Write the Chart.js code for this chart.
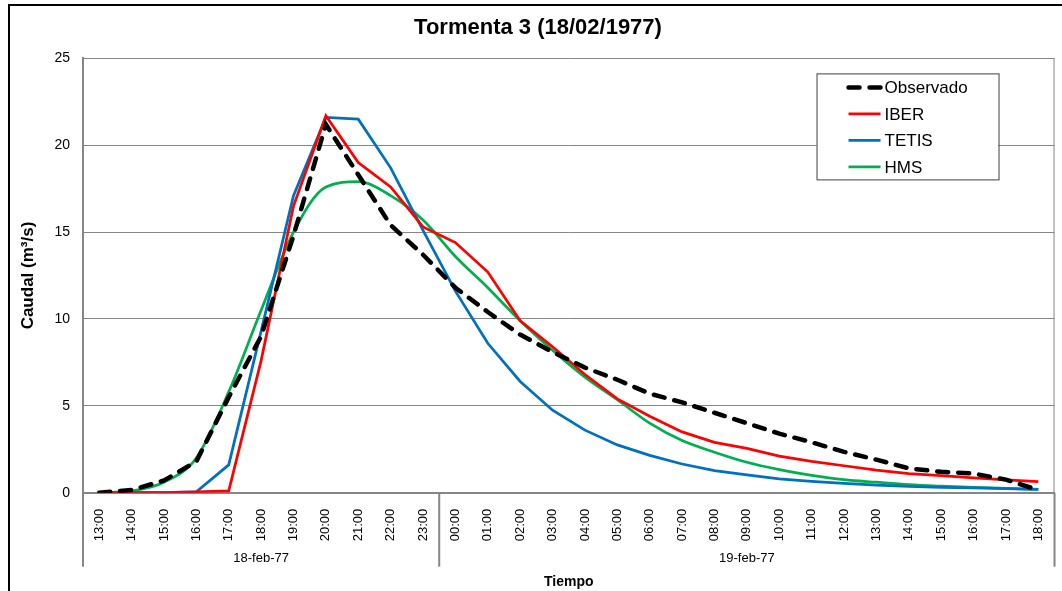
<!DOCTYPE html>
<html>
<head>
<meta charset="utf-8">
<script src="https://cdn.jsdelivr.net/npm/chart.js@4"></script>
<style>
  html, body { margin: 0; padding: 0; background: #fff; }
</style>
</head>
<body>
<canvas id="myChart" width="1062" height="591"></canvas>
<script>
const ctx = document.querySelector("#myChart").getContext("2d")

// etiquetas horarias (13:00 del 18 a 18:00 del 19)
const horas = ['13:00', '14:00', '15:00', '16:00', '17:00', '18:00', '19:00', '20:00', '21:00', '22:00', '23:00',
  '00:00', '01:00', '02:00', '03:00', '04:00', '05:00', '06:00', '07:00', '08:00', '09:00', '10:00',
  '11:00', '12:00', '13:00', '14:00', '15:00', '16:00', '17:00', '18:00']
const dias = ['18-feb-77', '19-feb-77']
const horasPorDia = [11, 19]

// caudales (m3/s)
const observado = [0, 0.15, 0.7, 1.8, 5.5, 9.0, 14.8, 21.2, 18.3, 15.4, 13.7, 11.8, 10.4, 9.1, 8.1, 7.2,
  6.5, 5.7, 5.2, 4.6, 4.0, 3.4, 2.9, 2.35, 1.9, 1.4, 1.2, 1.1, 0.75, 0.15]
const iber = [0, 0, 0, 0.05, 0.1, 7.6, 16.5, 21.7, 19.0, 17.6, 15.3, 14.4, 12.7, 9.9, 8.4, 6.8,
  5.4, 4.4, 3.5, 2.9, 2.55, 2.1, 1.8, 1.55, 1.3, 1.1, 0.98, 0.85, 0.73, 0.63]
const tetis = [0, 0, 0, 0.05, 1.6, 9.3, 17.1, 21.6, 21.5, 18.7, 15.1, 11.6, 8.6, 6.4, 4.75, 3.6,
  2.75, 2.15, 1.65, 1.27, 1.02, 0.8, 0.65, 0.54, 0.44, 0.36, 0.31, 0.27, 0.23, 0.19]
const hms = [0, 0.1, 0.6, 2.0, 5.8, 10.5, 15.0, 17.6, 17.9, 17.1, 15.7, 13.6, 11.8, 9.9, 8.2, 6.65,
  5.35, 4.0, 3.0, 2.33, 1.75, 1.33, 1.0, 0.75, 0.6, 0.46, 0.37, 0.3, 0.25, 0.19]

const gris = '#868686'
Chart.defaults.font.family = "'Liberation Sans', Arial, sans-serif"
Chart.defaults.color = '#000'

// marco, borde derecho, fechas bajo el eje y leyenda interior
const extras = {
  id: 'extras',
  beforeDraw(chart) {
    const c = chart.ctx
    c.save()
    c.fillStyle = '#fff'
    c.fillRect(0, 0, chart.width, chart.height)
    c.restore()
  },
  afterDraw(chart) {
    const c = chart.ctx
    const a = chart.chartArea
    const x = chart.scales.x
    c.save()

    c.strokeStyle = '#000'
    c.lineWidth = 2
    c.strokeRect(9, 5, chart.width + 20, chart.height + 20)

    c.strokeStyle = gris
    c.lineWidth = 1
    c.beginPath()
    c.moveTo(a.right - 0.5, a.top)
    c.lineTo(a.right - 0.5, a.bottom)
    c.stroke()

    // separadores y fechas
    const half = (x.getPixelForValue(1) - x.getPixelForValue(0)) / 2
    let inicio = 0
    c.lineWidth = 2
    c.font = '13px "Liberation Sans", Arial'
    c.textAlign = 'center'
    c.textBaseline = 'middle'
    c.fillStyle = '#000'
    const bordes = [0]
    horasPorDia.forEach(n => { inicio += n; bordes.push(inicio) })
    bordes.forEach(b => {
      const px = b < horas.length ? x.getPixelForValue(b) - half : x.getPixelForValue(horas.length - 1) + half
      c.beginPath()
      c.moveTo(px, a.bottom)
      c.lineTo(px, a.bottom + 74)
      c.stroke()
    })
    dias.forEach((d, i) => {
      const x0 = x.getPixelForValue(bordes[i]) - half
      const x1 = x.getPixelForValue(bordes[i + 1] - 1) + half
      c.fillText(d, (x0 + x1) / 2, a.bottom + 66)
    })

    // leyenda
    const lx = a.right - 238, ly = a.top + 15, lw = 182, lh = 106
    c.fillStyle = '#fff'
    c.fillRect(lx, ly, lw, lh)
    c.strokeStyle = '#404040'
    c.lineWidth = 1
    c.strokeRect(lx + 0.5, ly + 0.5, lw, lh)
    c.font = '17px "Liberation Sans", Arial'
    c.textAlign = 'left'
    chart.data.datasets.forEach((ds, i) => {
      const y = ly + 14 + i * 26.5
      c.strokeStyle = ds.borderColor
      c.lineWidth = ds.borderWidth
      c.lineCap = ds.borderCapStyle || 'butt'
      c.setLineDash(ds.borderDash || [])
      c.beginPath()
      c.moveTo(lx + 32, y)
      c.lineTo(lx + 64, y)
      c.stroke()
      c.setLineDash([])
      c.fillStyle = '#000'
      c.fillText(ds.label, lx + 68, y + 1)
    })
    c.restore()
  }
}

new Chart(ctx, {
  type: 'line',
  data: {
    labels: horas,
    datasets: [
      { label: 'Observado', data: observado, borderColor: '#000000', borderWidth: 4.5,
        borderDash: [11, 10], borderCapStyle: 'round', pointRadius: 0, tension: 0 },
      { label: 'IBER', data: iber, borderColor: '#FF0000', borderWidth: 2.75, pointRadius: 0, tension: 0 },
      { label: 'TETIS', data: tetis, borderColor: '#0070C0', borderWidth: 2.75, pointRadius: 0, tension: 0 },
      { label: 'HMS', data: hms, borderColor: '#00B050', borderWidth: 2.75, pointRadius: 0,
        cubicInterpolationMode: 'monotone' }
    ]
  },
  options: {
    responsive: false,
    animation: false,
    layout: { padding: { left: 18, right: 4, top: 6, bottom: 0 } },
    plugins: {
      legend: { display: false },
      tooltip: { enabled: false },
      title: {
        display: true,
        text: 'Tormenta 3 (18/02/1977)',
        font: { size: 22, weight: 'bold' },
        color: '#000',
        padding: { top: 9, bottom: 17 }
      }
    },
    scales: {
      x: {
        offset: true,
        grid: { display: false },
        border: { display: true, color: gris, width: 2 },
        ticks: { autoSkip: false, maxRotation: 90, minRotation: 90, padding: 8, font: { size: 13 } },
        title: { display: true, text: 'Tiempo', font: { size: 14, weight: 'bold' }, padding: { top: 25, bottom: 0 } }
      },
      y: {
        min: 0,
        max: 25,
        ticks: { stepSize: 5, padding: 13, font: { size: 14 } },
        grid: { color: gris, lineWidth: 1, drawTicks: false },
        border: { color: gris, width: 2 },
        title: { display: true, text: 'Caudal (m³/s)', font: { size: 17, weight: 'bold' }, padding: { top: 0, bottom: 0 } },
        afterFit: scale => { scale.width = 65 }
      }
    }
  },
  plugins: [extras]
})
</script>
</body>
</html>
